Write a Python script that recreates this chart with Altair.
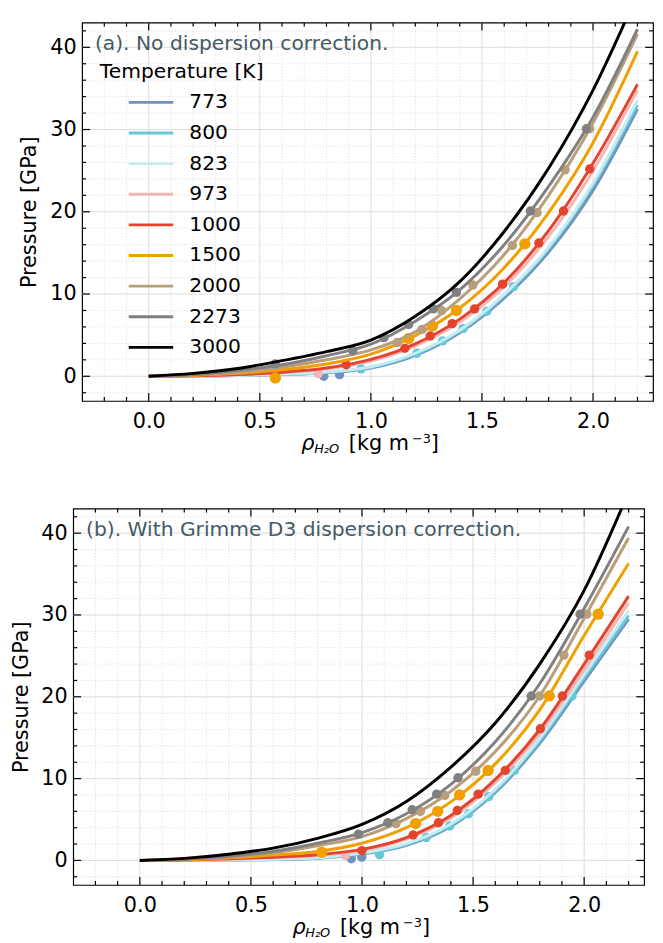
import altair as alt
import pandas as pd

# ---------------- data ----------------
TEMPS = ["773", "800", "823", "973", "1000", "1500", "2000", "2273", "3000"]
COLORS = ["#7092BE", "#66C7D9", "#C6ECF2", "#F4B5B5", "#E4442E",
          "#F0A000", "#B89E7A", "#808080", "#000000"]

RHO = [0.0, 0.2, 0.4, 0.6, 0.8, 1.0, 1.2, 1.4, 1.6, 1.8, 2.0, 2.2]

# (a) no dispersion correction: fitted curves (pressure, GPa, at RHO)
A_773 = [0, 0.02, 0.08, 0.20, 0.42, 1.00, 2.55, 5.3, 9.5, 15.1, 22.6, 32.5]
A_800 = [0, 0.03, 0.10, 0.25, 0.50, 1.10, 2.70, 5.5, 9.8, 15.5, 23.2, 33.0]
A_823 = [0, 0.03, 0.10, 0.26, 0.52, 1.15, 2.80, 5.6, 9.95, 15.7, 23.5, 33.6]
A_973 = [0, 0.05, 0.18, 0.45, 0.90, 1.85, 3.70, 6.6, 10.9, 17.0, 25.0, 34.8]
A_1000 = [0, 0.06, 0.22, 0.50, 1.00, 2.05, 3.95, 6.95, 11.4, 17.7, 25.9, 35.5]
A_1500 = [0, 0.10, 0.35, 0.80, 1.50, 2.70, 4.95, 8.3, 13.2, 19.9, 28.4, 39.5]
A_2000 = [0, 0.15, 0.50, 1.10, 2.00, 3.20, 5.40, 9.4, 14.8, 22.0, 30.8, 41.6]
A_2273 = [0, 0.20, 0.70, 1.40, 2.50, 3.90, 6.70, 10.5, 16.0, 23.1, 31.5, 42.2]
A_3000 = [0, 0.35, 0.95, 1.90, 3.00, 4.40, 7.30, 11.5, 17.6, 25.3, 34.8, 46.5]

# (a) simulation points (density, pressure)
PA_773 = [(0.788, 0.0), (0.859, 0.2)]
PA_800 = [(0.956, 0.9), (1.207, 2.8), (1.323, 4.3), (1.415, 5.8), (1.522, 7.9), (1.642, 10.9)]
PA_973 = [(0.763, 0.3)]
PA_1000 = [(0.889, 1.4), (1.153, 3.4), (1.267, 4.9), (1.366, 6.4), (1.467, 8.2),
           (1.593, 11.2), (1.756, 16.2), (1.867, 20.1), (1.985, 25.2)]
PA_1500 = [(0.57, -0.2), (1.17, 4.6), (1.277, 6.1), (1.385, 8.0), (1.693, 16.1)]
PA_2000 = [(1.119, 4.1), (1.23, 5.7), (1.319, 8.0), (1.459, 11.1), (1.637, 15.9),
           (1.748, 19.9), (1.874, 25.1), (1.985, 30.1)]
PA_2273 = [(0.57, 1.5), (0.919, 3.1), (1.059, 4.7), (1.17, 6.3), (1.281, 8.2),
           (1.385, 10.2), (1.718, 20.1), (1.97, 30.1)]

# (b) with Grimme D3 dispersion correction: fitted curves
B_773 = [0, 0.01, 0.04, 0.10, 0.27, 0.78, 1.85, 4.15, 8.3, 14.3, 21.9, 29.5]
B_800 = [0, 0.01, 0.05, 0.12, 0.30, 0.85, 1.95, 4.30, 8.5, 14.6, 22.3, 29.9]
B_823 = [0, 0.01, 0.06, 0.14, 0.33, 0.90, 2.05, 4.45, 8.7, 14.9, 22.7, 30.5]
B_973 = [0, 0.03, 0.15, 0.35, 0.60, 1.20, 2.60, 5.20, 9.5, 15.5, 23.3, 31.5]
B_1000 = [0, 0.05, 0.20, 0.40, 0.70, 1.35, 2.80, 5.50, 9.9, 16.0, 24.0, 32.3]
B_1500 = [0, 0.08, 0.30, 0.65, 1.10, 2.10, 4.00, 7.15, 11.8, 18.4, 27.5, 36.3]
B_2000 = [0, 0.12, 0.40, 0.95, 1.80, 2.90, 5.10, 8.45, 13.3, 20.1, 29.6, 39.4]
B_2273 = [0, 0.15, 0.50, 1.10, 2.10, 3.40, 5.70, 9.30, 14.5, 21.6, 30.8, 40.8]
B_3000 = [0, 0.25, 0.75, 1.50, 2.70, 4.40, 7.20, 11.4, 16.8, 24.0, 33.0, 45.0]

# (b) simulation points
PB_773 = [(0.952, 0.2), (0.999, 0.4)]
PB_800 = [(1.079, 0.7), (1.289, 2.8), (1.395, 4.2), (1.48, 5.7), (1.571, 7.8),
          (1.686, 11.0), (1.945, 20.1)]
PB_973 = [(0.925, 0.6)]
PB_1000 = [(1.0, 1.2), (1.23, 3.1), (1.344, 4.6), (1.429, 6.1), (1.523, 8.1),
           (1.645, 11.0), (1.803, 16.1), (1.902, 20.1), (2.023, 25.1)]
PB_1500 = [(0.819, 1.0), (1.241, 4.5), (1.341, 6.0), (1.439, 8.0), (1.568, 11.0),
           (1.843, 20.1), (2.063, 30.1)]
PB_2000 = [(1.153, 4.5), (1.263, 6.0), (1.373, 7.95), (1.512, 10.9), (1.799, 20.1),
           (1.909, 25.1), (2.012, 30.1)]
PB_2273 = [(0.984, 3.2), (1.116, 4.6), (1.226, 6.2), (1.336, 8.1), (1.432, 10.1),
           (1.762, 20.1), (1.982, 30.1)]

X_MAJOR = [0.0, 0.5, 1.0, 1.5, 2.0]
X_MINOR = [-0.2, -0.1, 0.1, 0.2, 0.3, 0.4, 0.6, 0.7, 0.8, 0.9, 1.1, 1.2, 1.3, 1.4,
           1.6, 1.7, 1.8, 1.9, 2.1, 2.2]
Y_MAJOR = [0, 10, 20, 30, 40]
Y_MINOR = [-2, 2, 4, 6, 8, 12, 14, 16, 18, 22, 24, 26, 28, 32, 34, 36, 38, 42]

LABEL_A = "(a). No dispersion correction."
LABEL_B = "(b). With Grimme D3 dispersion correction."

CURVES_A = [A_773, A_800, A_823, A_973, A_1000, A_1500, A_2000, A_2273, A_3000]
CURVES_B = [B_773, B_800, B_823, B_973, B_1000, B_1500, B_2000, B_2273, B_3000]
POINTS_A = {"773": PA_773, "800": PA_800, "973": PA_973, "1000": PA_1000,
            "1500": PA_1500, "2000": PA_2000, "2273": PA_2273}
POINTS_B = {"773": PB_773, "800": PB_800, "973": PB_973, "1000": PB_1000,
            "1500": PB_1500, "2000": PB_2000, "2273": PB_2273}


W = 578
FS = 21
FS2 = 20.5
CSCALE = alt.Scale(domain=TEMPS, range=COLORS)


def panel(curves, points, label, H, show_legend, title_dy):
    xs = alt.Scale(domain=[-0.3, 2.27], nice=False, zero=False)
    ys = alt.Scale(domain=[-3, 43], nice=False, zero=False)
    X = alt.X("x:Q", scale=xs, axis=alt.Axis(values=X_MAJOR, format=".1f", title=None,
                                             grid=False, ticks=False, domain=False,
                                             labelFontSize=FS, labelPadding=10,
                                             labelColor="black", labelFlush=False))
    Y = alt.Y("y:Q", scale=ys, axis=alt.Axis(values=Y_MAJOR, format="d",
                                             title="Pressure [GPa]", titleFontSize=FS,
                                             titleFontWeight="normal", titleColor="black",
                                             titlePadding=10, grid=False, ticks=False,
                                             domain=False, labelFontSize=FS,
                                             labelPadding=6, labelColor="black"))
    xmin = pd.DataFrame({"x": X_MINOR})
    xmaj = pd.DataFrame({"x": X_MAJOR})
    ymin = pd.DataFrame({"y": Y_MINOR})
    ymaj = pd.DataFrame({"y": Y_MAJOR})

    layers = []
    layers.append(alt.Chart(xmin).mark_rule(color="#d4d4d4", strokeWidth=0.8, strokeDash=[1, 2]).encode(x=X))
    layers.append(alt.Chart(ymin).mark_rule(color="#d4d4d4", strokeWidth=0.8, strokeDash=[1, 2]).encode(y=Y))
    layers.append(alt.Chart(xmaj).mark_rule(color="#dcdcdc", strokeWidth=1).encode(x=X))
    layers.append(alt.Chart(ymaj).mark_rule(color="#dcdcdc", strokeWidth=1).encode(y=Y))

    if show_legend:
        leg = alt.Legend(title="Temperature [K]", orient="none", legendX=18, legendY=40,
                         titleFontSize=FS2, titleFontWeight="normal", titleColor="black",
                         labelFontSize=FS2, labelColor="black", symbolType="M-3,0L3,0",
                         symbolSize=225, symbolStrokeWidth=3, symbolOffset=41.5,
                         labelOffset=28.5, rowPadding=10, titlePadding=10, titleLimit=400)
    else:
        leg = None

    # one line + its points per temperature, drawn in legend order
    for t, ys_ in zip(TEMPS, curves):
        ldf = pd.DataFrame({"x": RHO, "y": ys_, "T": t})
        layers.append(alt.Chart(ldf).mark_line(strokeWidth=3, clip=True, interpolate="monotone").encode(
            x=X, y=Y, color=alt.Color("T:N", scale=CSCALE, legend=leg)))
        pts = points.get(t, [])
        if pts:
            pdf = pd.DataFrame({"x": [p[0] for p in pts], "y": [p[1] for p in pts], "T": t})
            msize = 130 if t == "1500" else 90
            layers.append(alt.Chart(pdf).mark_circle(opacity=1, clip=True, size=msize).encode(
                x=X, y=Y, color=alt.Color("T:N", scale=CSCALE, legend=None)))

    # inward ticks on all four sides
    tk = dict(color="black", strokeWidth=1.2)
    for df, L in ((xmaj, 8), (xmin, 4)):
        layers.append(alt.Chart(df).mark_rule(**tk).encode(x=X, y=alt.value(H), y2=alt.value(H - L)))
        layers.append(alt.Chart(df).mark_rule(**tk).encode(x=X, y=alt.value(0), y2=alt.value(L)))
    for df, L in ((ymaj, 8), (ymin, 4)):
        layers.append(alt.Chart(df).mark_rule(**tk).encode(y=Y, x=alt.value(0), x2=alt.value(L)))
        layers.append(alt.Chart(df).mark_rule(**tk).encode(y=Y, x=alt.value(W), x2=alt.value(W - L)))

    # panel label
    layers.append(alt.Chart(pd.DataFrame({"t": [label]})).mark_text(
        align="left", baseline="middle", fontSize=FS2, color="#455A64").encode(
        x=alt.value(13), y=alt.value(22), text="t:N"))

    # x-axis title with sub/superscripts
    pieces = [
        ("ρ", 222, H + title_dy, FS, "italic"),
        ("H₂O", 235, H + title_dy + 3, 13, "italic"),
        ("[kg m", 270, H + title_dy, FS, "normal"),
        ("−3", 334, H + title_dy - 7, 13, "normal"),
        ("]", 353, H + title_dy, FS, "normal"),
    ]
    for txt, px, py, fs, st in pieces:
        layers.append(alt.Chart(pd.DataFrame({"t": [txt]})).mark_text(
            align="left", baseline="alphabetic", fontSize=fs, fontStyle=st, color="black").encode(
            x=alt.value(px), y=alt.value(py), text="t:N"))

    return alt.layer(*layers).properties(width=W, height=H)


def spacer(w):
    # empty, invisible view used only to offset a panel horizontally
    return alt.Chart(pd.DataFrame({"t": [0]})).mark_rule(opacity=0, strokeWidth=0.01).encode(
        x=alt.value(0), x2=alt.value(w), y=alt.value(0)
    ).properties(width=w, height=1, view=alt.ViewBackground(stroke="transparent", strokeWidth=0))


top = panel(CURVES_A, POINTS_A, LABEL_A, 383, True, 50)
bottom = panel(CURVES_B, POINTS_B, LABEL_B, 381, False, 50)

row_a = alt.hconcat(spacer(10), top, spacing=0).resolve_scale(color="independent")
row_b = alt.hconcat(spacer(1), bottom, spacing=0).resolve_scale(color="independent")

chart = alt.vconcat(row_a, row_b, spacing=50).resolve_scale(color="independent").properties(
    padding={"left": 0, "top": 7, "right": 0, "bottom": 0}
).configure(font="DejaVu Sans").configure_view(stroke="black", strokeWidth=1.2)

chart.save("out.html", embed_options={"renderer": "svg", "actions": False})
